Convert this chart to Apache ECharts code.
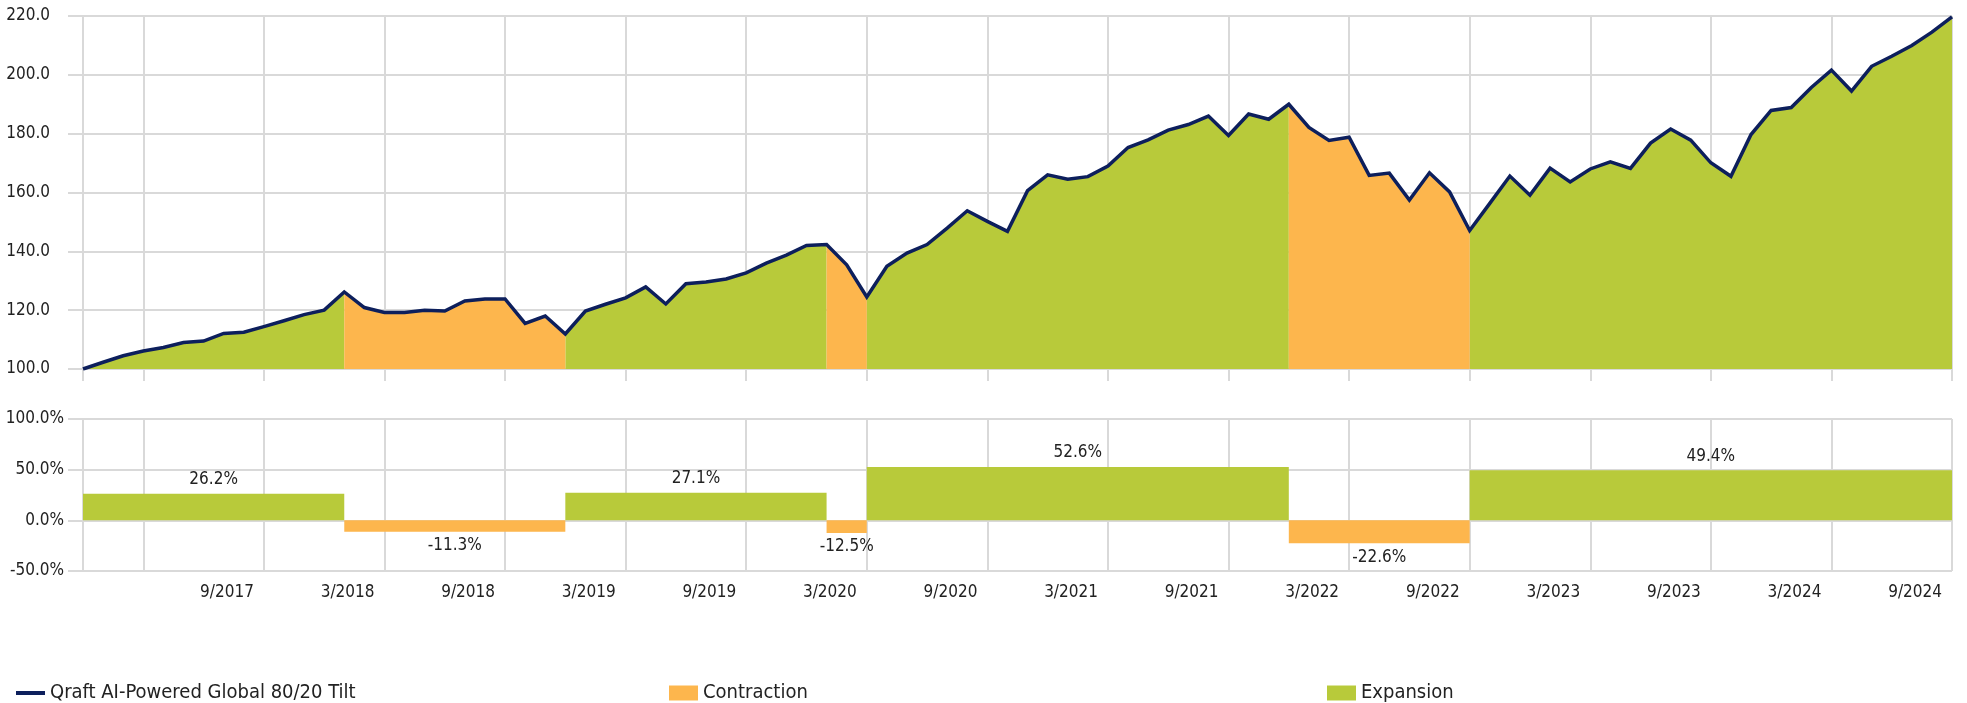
<!DOCTYPE html>
<html>
<head>
<meta charset="utf-8">
<script src="https://cdn.jsdelivr.net/npm/echarts@6/dist/echarts.min.js"></script>
<style>
  html, body { margin: 0; padding: 0; background: #fff; }
  #chart { width: 1967px; height: 703px; }
</style>
</head>
<body>
<div id="chart"></div>
<script>
// monthly index values, 12/2016 = 100
const months = [
  '12/2016',
  '1/2017', '2/2017', '3/2017', '4/2017', '5/2017', '6/2017', '7/2017', '8/2017', '9/2017', '10/2017', '11/2017', '12/2017',
  '1/2018', '2/2018', '3/2018', '4/2018', '5/2018', '6/2018', '7/2018', '8/2018', '9/2018', '10/2018', '11/2018', '12/2018',
  '1/2019', '2/2019', '3/2019', '4/2019', '5/2019', '6/2019', '7/2019', '8/2019', '9/2019', '10/2019', '11/2019', '12/2019',
  '1/2020', '2/2020', '3/2020', '4/2020', '5/2020', '6/2020', '7/2020', '8/2020', '9/2020', '10/2020', '11/2020', '12/2020',
  '1/2021', '2/2021', '3/2021', '4/2021', '5/2021', '6/2021', '7/2021', '8/2021', '9/2021', '10/2021', '11/2021', '12/2021',
  '1/2022', '2/2022', '3/2022', '4/2022', '5/2022', '6/2022', '7/2022', '8/2022', '9/2022', '10/2022', '11/2022', '12/2022',
  '1/2023', '2/2023', '3/2023', '4/2023', '5/2023', '6/2023', '7/2023', '8/2023', '9/2023', '10/2023', '11/2023', '12/2023',
  '1/2024', '2/2024', '3/2024', '4/2024', '5/2024', '6/2024', '7/2024', '8/2024', '9/2024'
];

const fundValues = [
  100.0,
  102.3, 104.5, 106.1, 107.3, 109.0, 109.5, 112.1, 112.5, 114.4, 116.4, 118.5, 120.0,
  126.2, 120.9, 119.2, 119.2, 120.0, 119.7, 123.1, 123.8, 123.8, 115.5, 118.0, 111.9,
  119.7, 122.0, 124.2, 127.9, 122.1, 129.0, 129.6, 130.6, 132.7, 136.0, 138.7, 142.0,
  142.3, 135.4, 124.5, 134.9, 139.4, 142.3, 147.9, 153.8, 150.2, 146.8, 160.6, 166.0,
  164.5, 165.4, 169.0, 175.3, 177.9, 181.2, 183.1, 186.0, 179.4, 186.7, 184.9, 190.0,
  182.1, 177.7, 178.8, 165.8, 166.6, 157.4, 166.7, 160.2, 147.1, 156.3, 165.6, 159.1,
  168.3, 163.6, 168.0, 170.4, 168.2, 176.8, 181.6, 177.8, 170.1, 165.5, 179.7, 187.9,
  188.9, 195.7, 201.6, 194.5, 202.9, 206.3, 210.0, 214.5, 219.7
];

// regimes (start month, end month, type, return %)
const regimeStart = ['12/2016', '1/2018', '12/2018', '1/2020', '3/2020', '12/2021', '9/2022'];
const regimeEnd = ['1/2018', '12/2018', '1/2020', '3/2020', '12/2021', '9/2022', '9/2024'];
const regimeType = ['Expansion', 'Contraction', 'Expansion', 'Contraction', 'Expansion', 'Contraction', 'Expansion'];
const regimeReturn = [26.2, -11.3, 27.1, -12.5, 52.6, -22.6, 49.4];

const topTicks = [100, 120, 140, 160, 180, 200, 220];
const bottomTicks = [-50, 0, 50, 100];

const FUND = 'Qraft AI-Powered Global 80/20 Tilt';
const NAVY = '#0D1F5C';
const GREEN = '#B8CA3A';
const ORANGE = '#FDB64D';
const GRID = '#D9D9D9';
const TEXT = '#222222';
const FONT = "'Liberation Sans Narrow', 'DejaVu Sans Condensed', 'Arial Narrow', sans-serif";
const TICK_SIZE = 17;

const regimes = regimeStart.map((s, i) => [months.indexOf(s), months.indexOf(regimeEnd[i]), regimeReturn[i], regimeType[i]]);

function areaFor(type) {
  return fundValues.map((v, i) => {
    const inside = regimes.some(r => r[3] === type && i >= r[0] && i <= r[1]);
    return inside ? v : null;
  });
}

const isGridMonth = (i) => i % 6 === 3;

function xAxisFor(gridIndex, showLabels) {
  return {
    type: 'category',
    gridIndex,
    data: months,
    boundaryGap: false,
    axisLine: { show: true, lineStyle: { color: GRID, width: 2 } },
    axisTick: { show: true, length: 12, interval: (i) => isGridMonth(i) || i === 0, lineStyle: { color: GRID, width: 2 } },
    splitLine: { show: true, interval: (i) => isGridMonth(i), lineStyle: { color: GRID, width: 2 } },
    axisLabel: {
      show: showLabels,
      interval: (i) => isGridMonth(i) && i > 3,
      align: 'right',
      padding: [0, 10, 0, 0],
      margin: 13,
      color: TEXT,
      fontFamily: FONT,
      fontSize: TICK_SIZE
    }
  };
}

function yAxisFor(gridIndex, min, max, interval, margin, fmt) {
  return {
    type: 'value',
    gridIndex,
    min, max, interval,
    axisLine: { show: true, lineStyle: { color: GRID, width: 2 } },
    axisTick: { show: true, length: 15, lineStyle: { color: GRID, width: 2 } },
    splitLine: { show: true, lineStyle: { color: GRID, width: 2 } },
    axisLabel: { margin, color: TEXT, fontFamily: FONT, fontSize: TICK_SIZE, formatter: fmt }
  };
}

const legendText = { color: TEXT, fontFamily: FONT, fontSize: 20 };

const chart = echarts.init(document.getElementById('chart'), null, { renderer: 'canvas' });

chart.setOption({
  animation: false,
  backgroundColor: '#fff',
  textStyle: { fontFamily: FONT },
  grid: [
    { left: 83, right: 15, top: 16, height: 353 },
    { left: 83, right: 15, top: 419, height: 152 }
  ],
  legend: [
    { data: [FUND], left: 11, top: 678, icon: 'rect', itemWidth: 29, itemHeight: 4, textStyle: legendText, selectedMode: false },
    { data: ['Contraction'], left: 664, top: 678, icon: 'rect', itemWidth: 29, itemHeight: 15, textStyle: legendText, selectedMode: false },
    { data: ['Expansion'], left: 1322, top: 678, icon: 'rect', itemWidth: 29, itemHeight: 15, textStyle: legendText, selectedMode: false }
  ],
  xAxis: [xAxisFor(0, false), xAxisFor(1, true)],
  yAxis: [
    yAxisFor(0, topTicks[0], topTicks[topTicks.length - 1], 20, 33, (v) => v.toFixed(1)),
    yAxisFor(1, bottomTicks[0], bottomTicks[bottomTicks.length - 1], 50, 19, (v) => v.toFixed(1) + '%')
  ],
  series: [
    {
      name: 'Expansion',
      type: 'line',
      xAxisIndex: 0, yAxisIndex: 0,
      data: areaFor('Expansion'),
      color: GREEN,
      symbol: 'none',
      lineStyle: { width: 0 },
      areaStyle: { color: GREEN, opacity: 1, origin: 'start' },
      z: 1
    },
    {
      name: 'Contraction',
      type: 'line',
      xAxisIndex: 0, yAxisIndex: 0,
      data: areaFor('Contraction'),
      color: ORANGE,
      symbol: 'none',
      lineStyle: { width: 0 },
      areaStyle: { color: ORANGE, opacity: 1, origin: 'start' },
      z: 1
    },
    {
      name: FUND,
      type: 'line',
      xAxisIndex: 0, yAxisIndex: 0,
      data: fundValues,
      color: NAVY,
      symbol: 'none',
      lineStyle: { color: NAVY, width: 3.5, join: 'miter' },
      z: 3
    },
    {
      name: 'Regime return',
      type: 'custom',
      xAxisIndex: 1, yAxisIndex: 1,
      data: regimes,
      encode: { x: [0, 1], y: 2 },
      renderItem(params, api) {
        const r = regimes[params.dataIndex];
        const p0 = api.coord([r[0], r[2]]);
        const p1 = api.coord([r[1], 0]);
        const x = p0[0];
        const w = p1[0] - p0[0];
        const top = Math.min(p0[1], p1[1]);
        const h = Math.abs(p1[1] - p0[1]);
        const positive = r[2] >= 0;
        return {
          type: 'group',
          children: [
            {
              type: 'rect',
              shape: { x, y: top, width: w, height: h },
              style: { fill: r[3] === 'Expansion' ? GREEN : ORANGE }
            },
            {
              type: 'text',
              style: {
                text: r[2].toFixed(1) + '%',
                x: x + w / 2,
                y: positive ? top - 14 : top + h + 14,
                align: 'center',
                verticalAlign: 'middle',
                fontFamily: FONT,
                fontSize: TICK_SIZE,
                fill: TEXT
              }
            }
          ]
        };
      },
      z: 2
    }
  ]
});
</script>
</body>
</html>
